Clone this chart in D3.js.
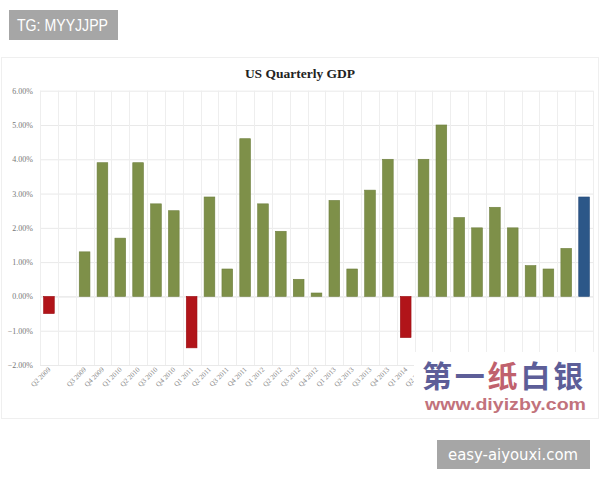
<!DOCTYPE html>
<html>
<head>
<meta charset="utf-8">
<script src="https://cdn.jsdelivr.net/npm/d3@7"></script>
<style>
  html, body { margin: 0; padding: 0; background: #ffffff; }
  svg { display: block; }
</style>
</head>
<body>
<div id="chart"></div>
<script>
const title = "US Quarterly GDP";
const categories = ["Q2 2009", "", "Q3 2009", "Q4 2009", "Q1 2010", "Q2 2010", "Q3 2010", "Q4 2010",
  "Q1 2011", "Q2 2011", "Q3 2011", "Q4 2011", "Q1 2012", "Q2 2012", "Q3 2012", "Q4 2012",
  "Q1 2013", "Q2 2013", "Q3 2013", "Q4 2013", "Q1 2014", "Q2 2014", "Q3 2014", "Q4 2014",
  "Q1 2015", "Q2 2015", "Q3 2015", "Q4 2015", "Q1 2016", "Q2 2016", "Q3 2016"];
const values = [-0.5, null, 1.3, 3.9, 1.7, 3.9, 2.7, 2.5,
  -1.5, 2.9, 0.8, 4.6, 2.7, 1.9, 0.5, 0.1,
  2.8, 0.8, 3.1, 4.0, -1.2, 4.0, 5.0, 2.3,
  2.0, 2.6, 2.0, 0.9, 0.8, 1.4, 2.9];
const yTicks = [-2, -1, 0, 1, 2, 3, 4, 5, 6];
const watermarkTop = "TG: MYYJJPP";
const watermarkBottom = "easy-aiyouxi.com";
const brandChars = ["第", "一", "纸", "白", "银"];
const brandUrl = "www.diyizby.com";

const W = 600, H = 480;
const svg = d3.select("#chart").append("svg").attr("width", W).attr("height", H);

// chart image frame
svg.append("rect").attr("x", 1.5).attr("y", 57.5).attr("width", 597).attr("height", 361)
  .attr("fill", "#ffffff").attr("stroke", "#efefef");

const x = d3.scaleBand().domain(d3.range(categories.length)).range([40, 593])
  .paddingInner(0.4).paddingOuter(0.2);
const y = d3.scaleLinear().domain([-2, 6]).range([365, 90.7]);
const step = x.step();

// horizontal gridlines
svg.append("g").selectAll("line").data(yTicks).join("line")
  .attr("x1", 40).attr("x2", 593)
  .attr("y1", d => y(d) + 0.5).attr("y2", d => y(d) + 0.5)
  .attr("stroke", d => d === 0 ? "#dedede" : "#e9e9e9").attr("stroke-width", 1);

// vertical gridlines at category boundaries
svg.append("g").selectAll("line").data(d3.range(categories.length + 1)).join("line")
  .attr("x1", i => Math.round(40 + i * step) + 0.5).attr("x2", i => Math.round(40 + i * step) + 0.5)
  .attr("y1", y(6)).attr("y2", y(-2))
  .attr("stroke", "#eeeeee").attr("stroke-width", 1);

// y axis labels
const yAxis = d3.axisLeft(y).tickValues(yTicks).tickSize(0).tickPadding(0)
  .tickFormat(d => d3.format(".2f")(d) + "%");
const ya = svg.append("g").attr("transform", "translate(33,0)").call(yAxis);
ya.select(".domain").remove();
ya.selectAll("text").attr("font-family", "'Liberation Serif', 'DejaVu Serif', serif")
  .attr("font-size", 8).attr("fill", "#777");

// bars
const idx = d3.range(values.length).filter(i => values[i] !== null);
svg.append("g").selectAll("rect").data(idx).join("rect")
  .attr("x", i => x(i))
  .attr("width", x.bandwidth())
  .attr("y", i => y(Math.max(0, values[i])))
  .attr("height", i => Math.abs(y(values[i]) - y(0)))
  .attr("fill", i => i === values.length - 1 ? "#2c5788" : (values[i] < 0 ? "#b11419" : "#7e9049"))
  .attr("stroke", i => i === values.length - 1 ? "#23497a" : (values[i] < 0 ? "#9c0f14" : "#6e7f3e"))
  .attr("stroke-width", 0.6);

// x labels (rotated)
svg.append("g").selectAll("text").data(d3.range(categories.length)).join("text")
  .attr("transform", i => `translate(${x(i) + x.bandwidth() / 2 + 2},${370}) rotate(-45)`)
  .attr("text-anchor", "end")
  .attr("font-family", "'Liberation Serif', 'DejaVu Serif', serif")
  .attr("font-size", 7).attr("fill", "#888")
  .text(i => categories[i]);

// title
svg.append("text").attr("x", 300).attr("y", 78).attr("text-anchor", "middle")
  .attr("font-family", "'Liberation Serif', 'DejaVu Serif', serif")
  .attr("font-weight", "bold").attr("font-size", 13.5).attr("fill", "#222")
  .text(title);

// brand watermark (with white backing)
svg.append("rect").attr("x", 414).attr("y", 352).attr("width", 182).attr("height", 64).attr("fill", "#ffffff");
const brandColors = ["#5d5e98", "#5d5e98", "#c0616d", "#5d5e98", "#5d5e98"];
svg.append("g").selectAll("text").data(brandChars).join("text")
  .attr("x", (d, i) => 422 + i * 32.8).attr("y", 387)
  .attr("font-family", "'Noto Sans CJK SC', sans-serif").attr("font-weight", "bold")
  .attr("font-size", 30).attr("fill", (d, i) => brandColors[i])
  .text(d => d);
svg.append("text").attr("x", 425).attr("y", 410)
  .attr("textLength", 161).attr("lengthAdjust", "spacingAndGlyphs")
  .attr("font-family", "'Liberation Sans', Arial, sans-serif").attr("font-weight", "bold")
  .attr("font-size", 16).attr("fill", "#c2727c")
  .text(brandUrl);

// gray tag boxes
svg.append("rect").attr("x", 9).attr("y", 10).attr("width", 109).attr("height", 30).attr("fill", "#a6a6a6");
svg.append("text").attr("x", 17).attr("y", 31).attr("textLength", 91).attr("lengthAdjust", "spacingAndGlyphs")
  .attr("font-family", "'Liberation Sans', Arial, sans-serif").attr("font-size", 16).attr("fill", "#ffffff")
  .text(watermarkTop);
svg.append("rect").attr("x", 437).attr("y", 440).attr("width", 153).attr("height", 29).attr("fill", "#a6a6a6");
svg.append("text").attr("x", 448).attr("y", 460).attr("textLength", 130).attr("lengthAdjust", "spacingAndGlyphs")
  .attr("font-family", "'DejaVu Sans', sans-serif").attr("font-size", 15).attr("fill", "#ffffff")
  .text(watermarkBottom);
</script>
</body>
</html>
